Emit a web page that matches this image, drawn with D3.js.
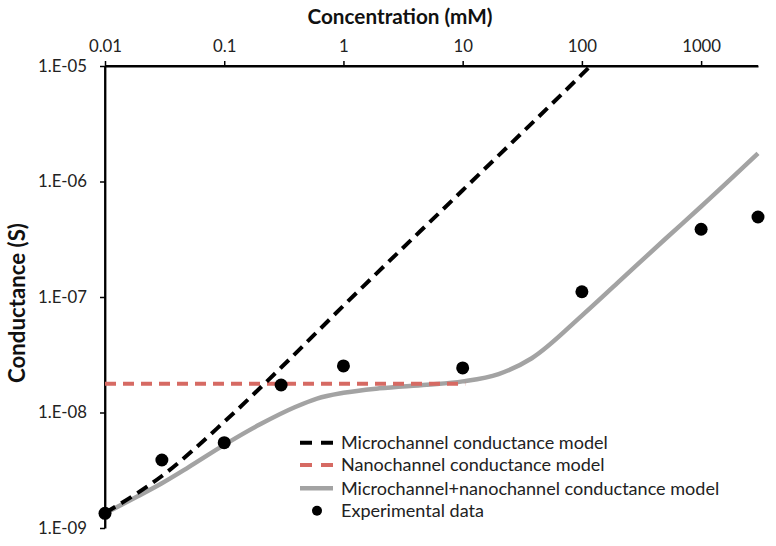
<!DOCTYPE html>
<html><head><meta charset="utf-8">
<script src="https://cdn.jsdelivr.net/npm/d3@7"></script>
<style>
html,body{margin:0;padding:0;background:#fff;}
text{font-family:Lato,"Open Sans",sans-serif;}
</style></head>
<body>
<svg id="chart" width="776" height="546"></svg>
<script>
// ---- data ----
const xTicks = [0.01, 0.1, 1, 10, 100, 1000];
const xTickLabels = ["0.01", "0.1", "1", "10", "100", "1000"];
const yTicks = [1e-9, 1e-8, 1e-7, 1e-6, 1e-5];
const yTickLabels = ["1.E-09", "1.E-08", "1.E-07", "1.E-06", "1.E-05"];

const microConc = [0.01, 0.03, 0.1, 0.3, 1, 10, 100, 118];
const microG    = [1.35e-9, 2.82e-9, 8.3e-9, 2.45e-8, 8.4e-8, 8.4e-7, 8.45e-6, 1.0e-5];

const nanoConc = [0.01, 10.5];
const nanoG    = [1.77e-8, 1.77e-8];

const combConc = [0.01, 0.019, 0.03, 0.05, 0.1, 0.2, 0.39, 0.6, 1, 2, 5, 10, 20, 38, 100, 200, 500, 1000, 3000];
const combG    = [1.34e-9, 1.89e-9, 2.44e-9, 3.35e-9, 5.24e-9, 7.9e-9, 1.11e-8, 1.32e-8, 1.48e-8, 1.62e-8, 1.74e-8, 1.86e-8, 2.15e-8, 2.95e-8, 6.9e-8, 1.33e-7, 3.18e-7, 6.07e-7, 1.75e-6];

const expConc = [0.01, 0.03, 0.1, 0.3, 1, 10, 100, 1000, 3000];
const expG    = [1.34e-9, 3.88e-9, 5.48e-9, 1.73e-8, 2.53e-8, 2.43e-8, 1.11e-7, 3.86e-7, 4.93e-7];

const legendLabels = ["Microchannel conductance model", "Nanochannel conductance model",
                      "Microchannel+nanochannel conductance model", "Experimental data"];
const xTitle = "Concentration (mM)";
const yTitle = "Conductance (S)";

// ---- drawing ----
const svg = d3.select("#chart");
const x = d3.scaleLog().domain([0.01, 3000]).range([105, 758]);
const y = d3.scaleLog().domain([1e-9, 1e-5]).range([528, 66]);

function fit(sel, w) {
  const n = sel.node();
  const cur = n.getComputedTextLength();
  const fs = parseFloat(sel.attr("font-size"));
  sel.attr("font-size", (fs * w / cur).toFixed(2));
}

// axes
const xAxis = svg.append("g").attr("transform", "translate(0,66)")
  .call(d3.axisTop(x).tickValues(xTicks).tickFormat((d, i) => xTickLabels[i]).tickSize(5).tickPadding(9).tickSizeOuter(0));
const yAxis = svg.append("g").attr("transform", "translate(105,0)")
  .call(d3.axisLeft(y).tickValues(yTicks).tickFormat((d, i) => yTickLabels[i]).tickSize(5).tickPadding(13).tickSizeOuter(0));
[xAxis, yAxis].forEach(g => {
  g.select(".domain").attr("stroke", "#000").attr("stroke-width", 1.8);
  g.selectAll(".tick line").attr("stroke", "#000").attr("stroke-width", 1.5);
  g.selectAll(".tick text").attr("fill", "#222").attr("font-size", 15)
    .style("font-family", "Lato, 'Open Sans', sans-serif");
});
const yLab = yAxis.selectAll(".tick text").filter((d, i) => i === 4);
fit(yLab, 49);
const tickFs = yLab.attr("font-size");
xAxis.selectAll(".tick text").attr("font-size", tickFs);
yAxis.selectAll(".tick text").attr("font-size", tickFs);

svg.append("line").attr("x1", 105).attr("x2", 758).attr("y1", 66).attr("y2", 66).attr("stroke", "#000").attr("stroke-width", 1.8);
svg.append("line").attr("x1", 105).attr("x2", 105).attr("y1", 66).attr("y2", 528).attr("stroke", "#000").attr("stroke-width", 1.8);

// titles
const xt = svg.append("text").attr("x", 400).attr("y", 24).attr("text-anchor", "middle")
  .attr("font-weight", "bold").attr("font-size", 17).attr("fill", "#111").text(xTitle);
fit(xt, 185);
const yt = svg.append("text").attr("transform", "translate(25,303) rotate(-90)").attr("text-anchor", "middle")
  .attr("font-weight", "bold").attr("font-size", 17).attr("fill", "#111").text(yTitle);
fit(yt, 160);

const line = d3.line().x(d => x(d[0])).y(d => y(d[1]));
const lineSmooth = d3.line().x(d => x(d[0])).y(d => y(d[1])).curve(d3.curveMonotoneX);
const zip = (a, b) => a.map((v, i) => [v, b[i]]);

const grey = "#a3a3a3", red = "#d66a63";
svg.append("path").datum(zip(combConc, combG)).attr("d", lineSmooth)
  .attr("fill", "none").attr("stroke", grey).attr("stroke-width", 4.5);
svg.append("path").datum(zip(nanoConc, nanoG)).attr("d", line)
  .attr("fill", "none").attr("stroke", red).attr("stroke-width", 4).attr("stroke-dasharray", "11,7");
svg.append("path").datum(zip(microConc, microG)).attr("d", lineSmooth)
  .attr("fill", "none").attr("stroke", "#000").attr("stroke-width", 4).attr("stroke-dasharray", "12,7");

svg.append("g").selectAll("circle").data(zip(expConc, expG)).join("circle")
  .attr("cx", d => x(d[0])).attr("cy", d => y(d[1])).attr("r", 6.5).attr("fill", "#000");

// legend
const lg = svg.append("g");
const rowsY = [442.7, 465, 488.3, 510.7];
lg.append("line").attr("x1", 300).attr("x2", 333).attr("y1", rowsY[0]).attr("y2", rowsY[0])
  .attr("stroke", "#000").attr("stroke-width", 4).attr("stroke-dasharray", "12,9");
lg.append("line").attr("x1", 300).attr("x2", 333).attr("y1", rowsY[1]).attr("y2", rowsY[1])
  .attr("stroke", red).attr("stroke-width", 4).attr("stroke-dasharray", "12,9");
lg.append("line").attr("x1", 300).attr("x2", 333).attr("y1", rowsY[2]).attr("y2", rowsY[2])
  .attr("stroke", grey).attr("stroke-width", 4.5);
lg.append("circle").attr("cx", 317).attr("cy", rowsY[3]).attr("r", 5).attr("fill", "#000");
const targetW = [267, 263, 380, 143];
legendLabels.forEach((t, i) => {
  const tx = lg.append("text").attr("x", 341).attr("y", rowsY[i]).attr("dy", "0.35em")
    .attr("font-size", 17).attr("fill", "#222").text(t);
  if (i === 0) fit(tx, targetW[0]);
});
const fs0 = lg.select("text").attr("font-size");
lg.selectAll("text").attr("font-size", fs0);
</script>
</body></html>
